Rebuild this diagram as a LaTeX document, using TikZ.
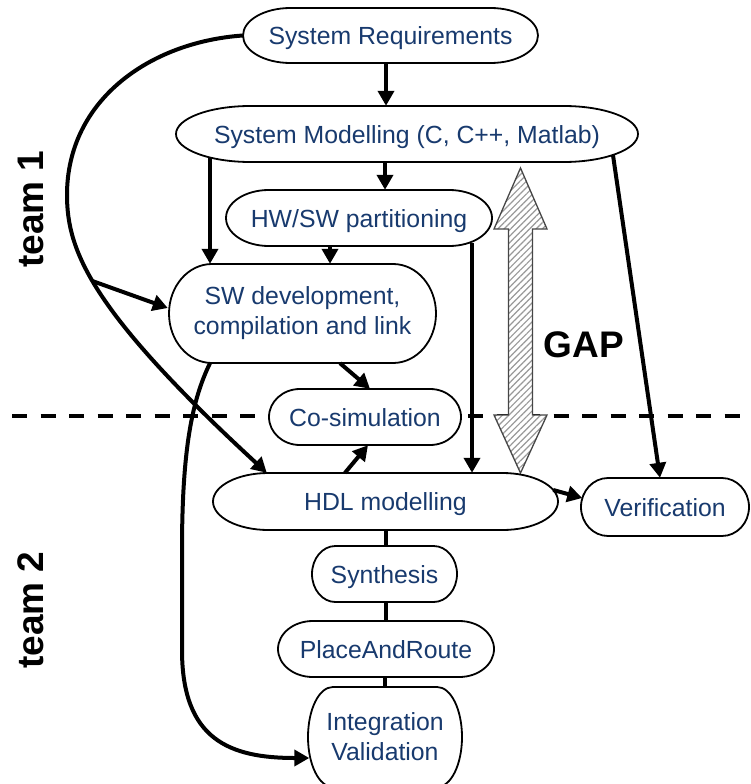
\documentclass[tikz,border=0pt]{standalone}
\usepackage{fontspec}
\setmainfont{Liberation Sans}
\usetikzlibrary{arrows.meta,patterns.meta,calc}

\definecolor{txtblue}{RGB}{24,58,110}
\definecolor{gapedge}{RGB}{70,70,70}

\tikzset{
  termline/.style={line width=1.8pt, draw=black, fill=white},
  termtext/.style={font=\fontsize{24.8}{30}\selectfont, text=txtblue, inner sep=0pt, align=center},
  oneline/.style={text height=23.5pt, text depth=5pt},
  flow/.style={line width=4pt, -{Triangle[length=15pt,width=16pt]}},
  plainlink/.style={line width=4pt},
  teamlabel/.style={font=\fontsize{37}{40}\selectfont\bfseries, rotate=90, inner sep=0pt},
  gaplabel/.style={font=\fontsize{37}{40}\selectfont\bfseries, inner sep=0pt},
  teamsplit/.style={line width=3.8pt, dash pattern=on 15pt off 13.5pt},
  gaparrow/.style={draw=gapedge, line width=1.3pt, preaction={fill=white},
    pattern={Lines[angle=45,distance=4.5pt,line width=1.2pt]}, pattern color=black!40},
}

% terminator box: [node options] name, left, top, right, bottom (top/bottom measured downwards), text
\newcommand\termnode[7][]{%
  \pgfmathsetmacro\tmL{#3}%
  \pgfmathsetmacro\tmR{#5}%
  \pgfmathsetmacro\tmT{-#4}%
  \pgfmathsetmacro\tmB{-#6}%
  \pgfmathsetmacro\tmRX{0.161*(#5-#3)}%
  \pgfmathsetmacro\tmRY{(#6-#4)/2}%
  \pgfmathsetmacro\tmW{#5-#3}%
  \pgfmathsetmacro\tmH{#6-#4}%
  \filldraw[termline] (\tmL+\tmRX,\tmT) -- (\tmR-\tmRX,\tmT)
    arc[start angle=90,end angle=-90,x radius=\tmRX,y radius=\tmRY]
    -- (\tmL+\tmRX,\tmB)
    arc[start angle=270,end angle=90,x radius=\tmRX,y radius=\tmRY] -- cycle;
  \node[termtext, minimum width=\tmW pt, minimum height=\tmH pt, #1] (#2)
    at ({(\tmL+\tmR)/2},{(\tmT+\tmB)/2}) {#7};
}

\begin{document}
\begin{tikzpicture}[x=1pt,y=1pt]
\useasboundingbox (0,0) rectangle (750,-784);

% boundary between the two teams
\draw[teamsplit] (12,-416) -- (750,-416);

% the gap between system level and hardware level
\draw[gaparrow] (520.5,-168) -- (547,-229) -- (532.5,-229) -- (532.5,-415)
  -- (547,-415) -- (520.5,-473) -- (494,-415) -- (508.5,-415)
  -- (508.5,-229) -- (494,-229) -- cycle;

% flow steps
\termnode[oneline]{sr}{243}{8}{538}{63}{System Requirements}
\termnode[oneline]{sm}{176}{106}{638}{162}{System Modelling (C, C++, Matlab)}
\termnode[oneline]{hw}{226}{190}{492}{246}{HW/SW partitioning}
\termnode{sw}{169}{264}{436}{363}{SW development,\\compilation and link}
\termnode[oneline]{cs}{269}{389}{461}{445}{Co-simulation}
\termnode[oneline]{hdl}{213}{473}{558}{530}{HDL modelling}
\termnode[oneline]{ver}{581}{478}{749}{536}{Verification}
\termnode[oneline]{syn}{312}{546}{457}{602}{Synthesis}
\termnode[oneline]{par}{278}{621}{494}{677}{PlaceAndRoute}
\termnode{iv}{308}{687}{462}{787}{Integration\\Validation}

% straight connectors
\draw[flow] ([xshift=-4.5pt]sr.south) -- ([xshift=-4.5pt]sr.south |- sm.north);
\draw[flow] ([xshift=-22pt]sm.south) -- ([xshift=-22pt]sm.south |- hw.north);
\draw[flow] ([xshift=-197pt,yshift=4pt]sm.south) -- ([xshift=-197pt]sm.south |- sw.north);
\draw[flow] ([xshift=-29pt]hw.south) -- ([xshift=-29pt]hw.south |- sw.north);
\draw[flow] ([xshift=113pt,yshift=3pt]hw.south) -- ([xshift=113pt]hw.south |- hdl.north);
\draw[flow] ([xshift=206pt,yshift=7pt]sm.south) -- ([xshift=-5pt]ver.north);
\draw[flow] ([xshift=-5pt,yshift=11.5pt]hdl.east) -- ([xshift=1.5pt,yshift=9pt]ver.west);
\draw[flow] ([xshift=37.5pt]sw.south) -- ([xshift=5pt]cs.north);
\draw[flow] ([xshift=-40.5pt]hdl.north) -- ([xshift=3pt]cs.south);
\draw[plainlink] (hdl.south) -- (hdl.south |- syn.north);
\draw[plainlink] (syn.south -| par.north) -- (par.north);
\draw[plainlink] (iv.north |- par.south) -- (iv.north);

% requirements feed software and hardware directly
\draw[flow] (sr.west) .. controls (150,-42) and (67,-100) .. (67,-195)
  .. controls (67,-250) and (90,-310) .. ([xshift=54pt]hdl.north west)
  coordinate[pos=0.45] (fork);
\draw[flow] (fork) -- ([xshift=-1pt,yshift=5.5pt]sw.west);

% software goes straight to integration
\draw[flow] ([xshift=-92.5pt]sw.south) .. controls (192,-400) and (182,-450) .. (182,-550)
  -- (182,-650) .. controls (182,-740) and (230,-758) .. ([xshift=1.5pt,yshift=-21pt]iv.west);

% labels
\node[teamlabel] (t1) at (31,-209) {team 1};
\node[teamlabel] (t2) at (31,-610) {team 2};
\node[gaplabel] (gap) at (584,-345) {GAP};
\end{tikzpicture}
\end{document}
